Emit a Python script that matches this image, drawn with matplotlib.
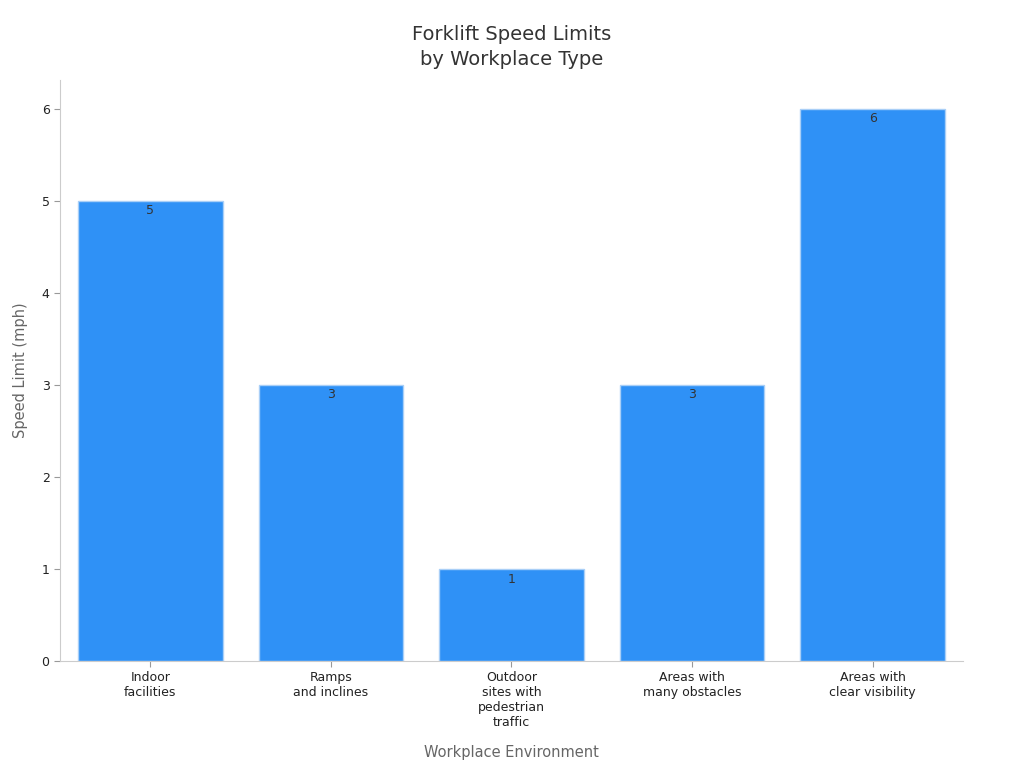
import matplotlib.pyplot as plt

# data
categories = ["Indoor\nfacilities", "Ramps\nand inclines", "Outdoor\nsites with\npedestrian\ntraffic",
              "Areas with\nmany obstacles", "Areas with\nclear visibility"]
speed_limits = [5, 3, 1, 3, 6]

fig = plt.figure(figsize=(10.24, 7.68), dpi=100)
ax = fig.add_axes([0.0586, 0.1393, 0.8818, 0.7565])

x = range(len(categories))
bars = ax.bar(x, speed_limits, width=0.8, color='#2F91F6', edgecolor='#A9CFF7', linewidth=1)

for b, v in zip(bars, speed_limits):
    ax.text(b.get_x() + b.get_width() / 2, v - 0.04, str(v), ha='center', va='top',
            fontsize=9, color='#333333')

ax.set_xlim(-0.5, 4.5)
ax.set_ylim(0, 6.31)
ax.set_xticks(list(x))
ax.set_xticklabels(categories, fontsize=9, color='#222222')
ax.set_yticks(range(0, 7))
ax.tick_params(axis='y', labelsize=9, colors='#222222', length=4, color='#999999')
ax.tick_params(axis='x', length=4, color='#999999')

for s in ['top', 'right']:
    ax.spines[s].set_visible(False)
for s in ['left', 'bottom']:
    ax.spines[s].set_color('#cccccc')

ax.set_xlabel('Workplace Environment', fontsize=10.5, color='#666666', labelpad=11)
ax.set_ylabel('Speed Limit (mph)', fontsize=10.5, color='#666666', labelpad=10)
fig.suptitle('Forklift Speed Limits\nby Workplace Type', fontsize=14, color='#333333',
             y=0.968, linespacing=1.4)

fig.savefig('out.png', dpi=100)
